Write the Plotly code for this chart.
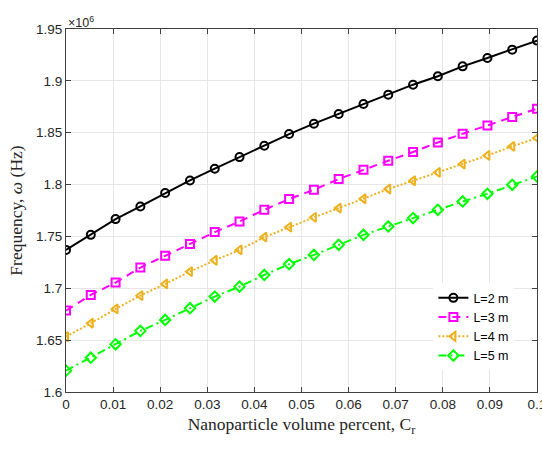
import numpy as np
import plotly.graph_objects as go

# Nanoparticle volume percent (20 points from 0 to 0.1)
cr = [0.0, 0.005263, 0.010526, 0.015789, 0.021053, 0.026316, 0.031579, 0.036842,
      0.042105, 0.047368, 0.052632, 0.057895, 0.063158, 0.068421, 0.073684,
      0.078947, 0.084211, 0.089474, 0.094737, 0.1]

# Frequency values (x 10^6 Hz)
L2 = [1.737, 1.7515, 1.7667, 1.7789, 1.7918, 1.804, 1.8153, 1.8265, 1.8375, 1.8487,
      1.8587, 1.868, 1.8777, 1.8867, 1.8963, 1.9044, 1.914, 1.9221, 1.9301, 1.9388]
L3 = [1.6785, 1.6936, 1.7055, 1.720, 1.7313, 1.7426, 1.7542, 1.7644, 1.7757, 1.786,
      1.795, 1.8053, 1.8143, 1.823, 1.8314, 1.8406, 1.849, 1.857, 1.8652, 1.8732]
L4 = [1.6534, 1.6663, 1.6801, 1.693, 1.7042, 1.7161, 1.727, 1.737, 1.7493, 1.759,
      1.7683, 1.7773, 1.7863, 1.7957, 1.8037, 1.8117, 1.8198, 1.8281, 1.8368, 1.8449]
L5 = [1.6206, 1.6331, 1.646, 1.6589, 1.6695, 1.6808, 1.692, 1.7016, 1.7129, 1.7233,
      1.7322, 1.7419, 1.7515, 1.7596, 1.7677, 1.7757, 1.7837, 1.7911, 1.7998, 1.8078]

series_names = ["L=2 m", "L=3 m", "L=4 m", "L=5 m"]

x_tickvals = [0, 0.01, 0.02, 0.03, 0.04, 0.05, 0.06, 0.07, 0.08, 0.09, 0.1]
x_ticktext = ["0", "0.01", "0.02", "0.03", "0.04", "0.05", "0.06", "0.07", "0.08", "0.09", "0.1"]
y_tickvals = [1.6, 1.65, 1.7, 1.75, 1.8, 1.85, 1.9, 1.95]
y_ticktext = ["1.6", "1.65", "1.7", "1.75", "1.8", "1.85", "1.9", "1.95"]

styles = [
    dict(color="#000000", dash="solid", symbol="circle-open"),
    dict(color="#FF00FF", dash="8px,6px", symbol="square-open"),
    dict(color="#EDB120", dash="2px,2px", symbol="triangle-left-open"),
    dict(color="#00FF00", dash="8px,4px,2px,4px", symbol="diamond-open"),
]

fig = go.Figure()
for name, ys, st in zip(series_names, [L2, L3, L4, L5], styles):
    fig.add_trace(go.Scatter(
        x=cr, y=ys, name=name, mode="lines+markers",
        line=dict(color=st["color"], width=2, dash=st["dash"]),
        marker=dict(symbol=st["symbol"], size=8, color=st["color"],
                    line=dict(color=st["color"], width=2)),
    ))

axis_common = dict(
    showgrid=True, gridcolor="#E6E6E6", gridwidth=1,
    showline=True, linecolor="#404040", linewidth=1, mirror="ticks",
    ticks="inside", ticklen=5, tickcolor="#404040",
    tickfont=dict(family="Liberation Sans, Arial", size=13.5, color="#262626"),
    zeroline=False, ticklabeloverflow="allow", automargin=False,
)

fig.update_layout(
    width=542, height=449,
    margin=dict(l=66, r=5, t=29, b=57),
    paper_bgcolor="white", plot_bgcolor="white",
    showlegend=True,
    legend=dict(
        x=0.78, xanchor="left", y=0.06, yanchor="bottom",
        bgcolor="white", borderwidth=0,
        font=dict(family="Liberation Sans, Arial", size=12.5, color="#000000"),
        tracegroupgap=0, itemwidth=30,
    ),
    xaxis=dict(
        range=[0, 0.1], tickvals=x_tickvals, ticktext=x_ticktext,
        title=dict(text="Nanoparticle volume percent, C<sub>r</sub>",
                   font=dict(family="Liberation Serif, Times New Roman", size=17.5, color="#262626"),
                   standoff=6),
        **axis_common,
    ),
    yaxis=dict(
        range=[1.6, 1.95], tickvals=y_tickvals, ticktext=y_ticktext,
        title=dict(text="Frequency, <i>ω</i> (Hz)",
                   font=dict(family="Liberation Serif, Times New Roman", size=17.5, color="#262626"),
                   standoff=8),
        **axis_common,
    ),
    annotations=[dict(
        text="×10<sup>6</sup>", xref="paper", yref="paper", x=0, y=1,
        xanchor="left", yanchor="bottom", showarrow=False, xshift=0, yshift=-3,
        font=dict(family="Liberation Sans, Arial", size=12.5, color="#262626"),
    )],
)

fig.write_html("out.html", config={"displayModeBar": False},
               post_script="document.body.style.margin='0';document.body.style.overflow='hidden';")
